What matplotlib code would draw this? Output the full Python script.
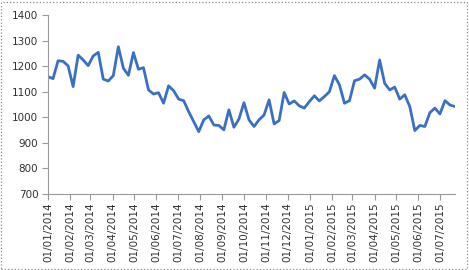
import matplotlib
matplotlib.use("Agg")
import matplotlib.pyplot as plt
import matplotlib.dates as mdates
from matplotlib.patches import Rectangle
import pandas as pd

# weekly values
values = [1159, 1151, 1221, 1219, 1201, 1120, 1243, 1224, 1202, 1240, 1254,
          1149, 1142, 1163, 1276, 1192, 1164, 1253, 1188, 1194, 1107,
          1091, 1096, 1055, 1123, 1104, 1071, 1065, 1022, 983, 944,
          990, 1005, 970, 968, 951, 1029, 961, 993, 1057, 990,
          964, 990, 1009, 1068, 974, 987, 1097, 1052, 1064, 1045,
          1036, 1061, 1084, 1064, 1081, 1100, 1163, 1127, 1055, 1065,
          1143, 1149, 1166, 1149, 1114, 1224, 1133, 1107, 1118, 1071,
          1088, 1042, 948, 968, 964, 1018, 1036, 1013, 1065, 1048, 1042]
dates = pd.date_range("2014-01-01", periods=len(values), freq="7D")
yticks = [700, 800, 900, 1000, 1100, 1200, 1300, 1400]

fig = plt.figure(figsize=(4.69, 2.70), dpi=100)
ax = fig.add_axes([48 / 469, 76 / 270, 407 / 469, 179 / 270])

ax.plot(dates, values, color="#3b6fc4", linewidth=2.0, solid_joinstyle="round")

ax.set_ylim(700, 1400)
ax.set_yticks(yticks)
ax.set_xlim(dates[0], dates[-1])
ax.xaxis.set_major_locator(mdates.MonthLocator())
ax.xaxis.set_major_formatter(mdates.DateFormatter("%d/%m/%Y"))

for s in ["top", "right"]:
    ax.spines[s].set_visible(False)
for s in ["left", "bottom"]:
    ax.spines[s].set_color("#9a9a9a")
    ax.spines[s].set_linewidth(0.8)

ax.tick_params(axis="both", direction="out", length=4, width=0.8,
               color="#9a9a9a", labelsize=7.5, labelcolor="#303030")
ax.tick_params(axis="x", labelrotation=90, pad=2)
ax.tick_params(axis="y", pad=3)

# dotted chart border
fig.patches.append(Rectangle((0.002, 0.004), 0.994, 0.99, transform=fig.transFigure,
                             fill=False, edgecolor="#8a8a8a", linestyle=":", linewidth=0.9))

fig.savefig("out.png", dpi=100)
